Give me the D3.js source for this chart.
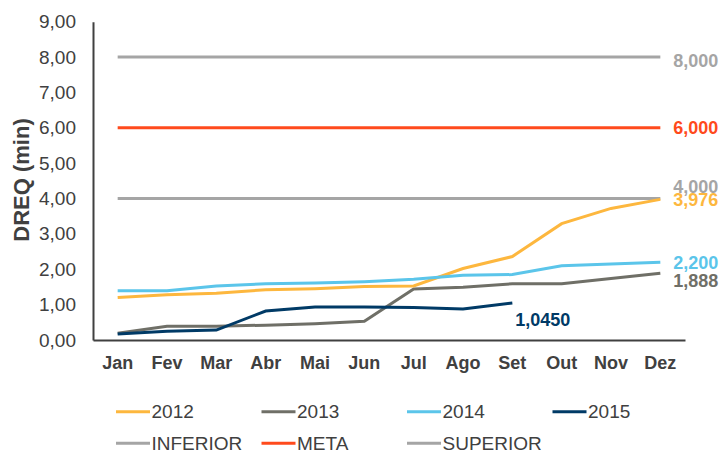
<!DOCTYPE html>
<meta charset='utf-8'>
<title>DREQ</title>
<style>
body {
  margin: 0;
  background-color: #fff;
  font-family: "Liberation Sans", Arial, sans-serif;
}
</style>
<svg width="724" height="452"></svg>
<script src="https://d3js.org/d3.v7.min.js"></script>
<script>

var months = ["Jan", "Fev", "Mar", "Abr", "Mai", "Jun", "Jul", "Ago", "Set", "Out", "Nov", "Dez"];
var yTicks = [0, 1, 2, 3, 4, 5, 6, 7, 8, 9];

var v2012 = [1.20, 1.28, 1.32, 1.42, 1.45, 1.51, 1.53, 2.02, 2.36, 3.29, 3.72, 3.976];
var v2013 = [0.19, 0.39, 0.39, 0.42, 0.46, 0.53, 1.44, 1.49, 1.59, 1.59, 1.74, 1.888];
var v2014 = [1.39, 1.39, 1.53, 1.59, 1.61, 1.65, 1.72, 1.83, 1.85, 2.10, 2.15, 2.20];
var v2015 = [0.17, 0.25, 0.28, 0.82, 0.93, 0.93, 0.92, 0.88, 1.045];
var inferior = 4, meta = 6, superior = 8;

var endLabels = [
  { text: "8,000", value: 8, month: "Dez", color: "#a5a5a5", dy: 10 },
  { text: "6,000", value: 6, month: "Dez", color: "#ff4a1c", dy: 6 },
  { text: "4,000", value: 4, month: "Dez", color: "#a5a5a5", dy: -6 },
  { text: "3,976", value: 3.976, month: "Dez", color: "#fdb73e", dy: 7 },
  { text: "2,200", value: 2.20, month: "Dez", color: "#5bc5ea", dy: 7 },
  { text: "1,888", value: 1.888, month: "Dez", color: "#6f6f67", dy: 14 },
  { text: "1,0450", value: 1.045, month: "Set", color: "#003a66", dy: 23 }
];

var svg = d3.select("svg");

var x = d3.scaleBand()
    .domain(months)
    .range([93, 685]);

var y = d3.scaleLinear()
    .domain([0, 9])
    .range([340, 21.7]);

var cx = function(m) { return x(m) + x.bandwidth() / 2; };

// y axis
var yAxis = svg.append("g")
    .attr("transform", "translate(93,0)")
    .call(d3.axisLeft(y).tickValues(yTicks).tickSize(0).tickPadding(17)
      .tickFormat(function(d) { return d3.format(".2f")(d).replace(".", ","); }));
yAxis.select(".domain").attr("stroke", "#404040").attr("stroke-width", 2);
yAxis.selectAll("text")
    .attr("fill", "#404040")
    .style("font-size", "19px")
    .style("font-family", "Liberation Sans, Arial, sans-serif");

// x axis
var xAxis = svg.append("g")
    .attr("transform", "translate(0,340)")
    .call(d3.axisBottom(x).tickSize(0).tickPadding(16.5));
xAxis.select(".domain").attr("stroke", "#404040").attr("stroke-width", 2);
xAxis.selectAll("text")
    .attr("fill", "#404040")
    .style("font-size", "18px")
    .style("font-weight", "bold")
    .style("font-family", "Liberation Sans, Arial, sans-serif");

// y title
svg.append("text")
    .attr("transform", "translate(29,180) rotate(-90)")
    .attr("text-anchor", "middle")
    .attr("fill", "#404040")
    .style("font-size", "22px")
    .style("font-weight", "bold")
    .text("DREQ (min)");

var line = d3.line()
    .x(function(d, i) { return cx(months[i]); })
    .y(function(d) { return y(d); });

var series = [
  { name: "SUPERIOR", values: months.map(function() { return superior; }), color: "#a5a5a5" },
  { name: "META", values: months.map(function() { return meta; }), color: "#ff4a1c" },
  { name: "INFERIOR", values: months.map(function() { return inferior; }), color: "#a5a5a5" },
  { name: "2013", values: v2013, color: "#6f6f67" },
  { name: "2012", values: v2012, color: "#fdb73e" },
  { name: "2014", values: v2014, color: "#5bc5ea" },
  { name: "2015", values: v2015, color: "#003a66" }
];

svg.selectAll("path.series")
    .data(series)
  .enter().append("path")
    .attr("class", "series")
    .attr("fill", "none")
    .attr("stroke", function(d) { return d.color; })
    .attr("stroke-width", 3)
    .attr("d", function(d) { return line(d.values); });

// end labels
svg.selectAll("text.endlabel")
    .data(endLabels)
  .enter().append("text")
    .attr("class", "endlabel")
    .attr("x", function(d) { return cx(d.month) + (d.month === "Dez" ? 13 : 3); })
    .attr("y", function(d) { return y(d.value) + d.dy; })
    .attr("fill", function(d) { return d.color; })
    .style("font-size", "18px")
    .style("font-weight", "bold")
    .text(function(d) { return d.text; });

// legend
var legend = [
  { name: "2012", color: "#fdb73e", col: 0, row: 0 },
  { name: "2013", color: "#6f6f67", col: 1, row: 0 },
  { name: "2014", color: "#5bc5ea", col: 2, row: 0 },
  { name: "2015", color: "#003a66", col: 3, row: 0 },
  { name: "INFERIOR", color: "#a5a5a5", col: 0, row: 1 },
  { name: "META", color: "#ff4a1c", col: 1, row: 1 },
  { name: "SUPERIOR", color: "#a5a5a5", col: 2, row: 1 }
];

var lg = svg.selectAll("g.legend")
    .data(legend)
  .enter().append("g")
    .attr("class", "legend")
    .attr("transform", function(d) { return "translate(" + (116 + d.col * 145.5) + "," + (411.7 + d.row * 31.5) + ")"; });

lg.append("line")
    .attr("x1", 0).attr("x2", 34)
    .attr("stroke", function(d) { return d.color; })
    .attr("stroke-width", 3);

lg.append("text")
    .attr("x", 35.5)
    .attr("dy", "0.35em")
    .attr("fill", "#404040")
    .style("font-size", "19px")
    .text(function(d) { return d.name; });
</script>
